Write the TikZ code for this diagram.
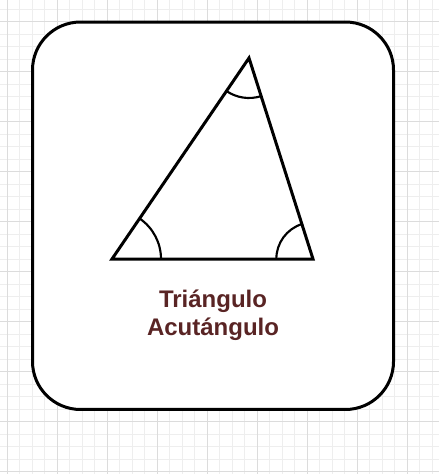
\documentclass[tikz,border=0pt]{standalone}
\usepackage{fontspec}
\setmainfont{Liberation Sans}
\usetikzlibrary{angles}
\definecolor{labelbrown}{RGB}{89,36,36}
\definecolor{gridminor}{RGB}{238,238,238}
\definecolor{gridmajor}{RGB}{220,220,220}

\begin{document}
\begin{tikzpicture}[x=0.75pt, y=-0.75pt,
    minorline/.style={gridminor, line width=0.75pt},
    majorline/.style={gridmajor, line width=0.75pt},
    edge/.style={line width=2.25pt, line join=miter},
    mark/.style={draw, line width=1.6pt, angle radius=#1}]
  \useasboundingbox (0,0) rectangle (439,474);

  % Background grid
  \foreach \i in {0,...,35} \draw[minorline] ({7.3+12.5*\i},0) -- ++(0,474);
  \foreach \i in {-1,...,37} \draw[minorline] (0,{21.7+12.5*\i}) -- ++(439,0);
  \foreach \i in {0,...,8} \draw[majorline] ({7.3+50*\i},0) -- ++(0,474);
  \foreach \i in {0,...,9} \draw[majorline] (0,{21.7+50*\i}) -- ++(439,0);

  % Card
  \node (card) [draw, fill=white, line width=2.25pt, rounded corners=36pt, inner sep=0pt,
    minimum width=270.75pt, minimum height=290.6pt] at (213,215.75) {};

  % Triangle
  \coordinate (left) at (112,259);
  \coordinate (right) at (313,259);
  \coordinate (apex) at (249,58);
  \draw[edge] (left) -- (right) -- (apex) -- cycle;

  % Angle marks
  \pic[mark=36.75pt] {angle=right--left--apex};
  \pic[mark=27.5pt] {angle=apex--right--left};
  \pic[mark=30pt] {angle=left--apex--right};

  % Label
  \node (label) [anchor=base, align=center, text=labelbrown, font=\fontsize{18pt}{20.8pt}\selectfont\bfseries]
    at (213,335) {Triángulo\\Acutángulo};
\end{tikzpicture}
\end{document}
